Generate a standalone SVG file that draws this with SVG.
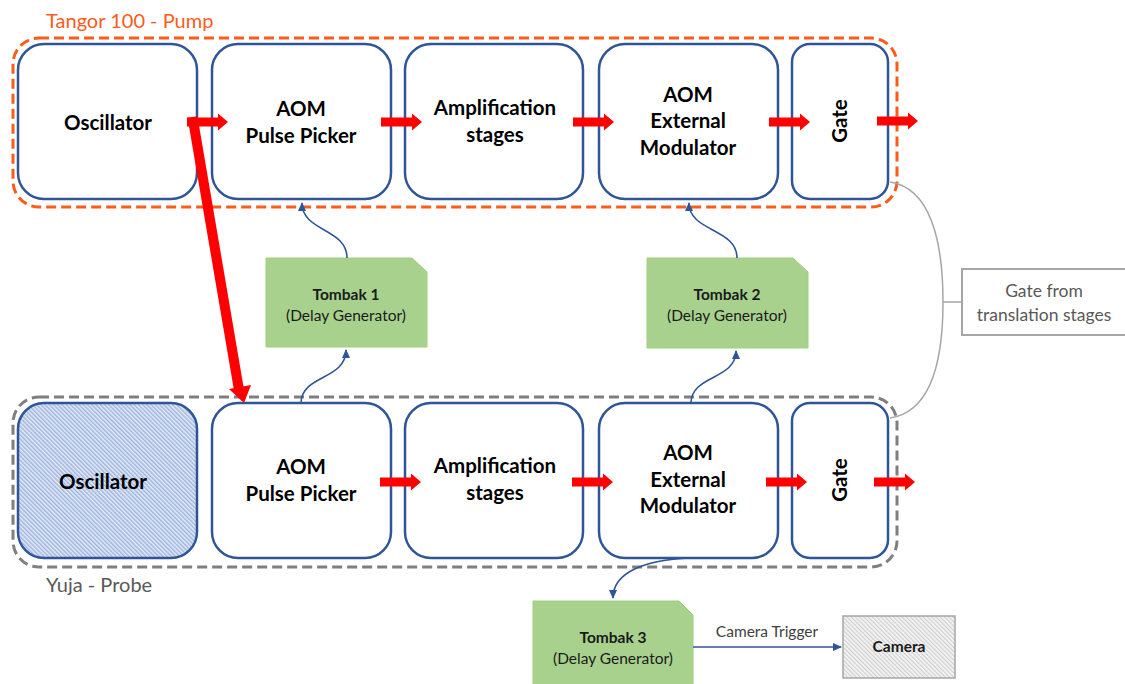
<svg xmlns="http://www.w3.org/2000/svg" width="1125" height="684" viewBox="0 0 1125 684">
<style>
.node{fill:#fff;stroke:#2f5597;stroke-width:2.5}
.lbl{font-family:Lato,"Liberation Sans",sans-serif;font-weight:bold;font-size:20.5px;fill:#000;text-anchor:middle}
.tb{fill:#a9d18e;stroke:#9bd27a;stroke-width:1}
.tt{font-family:Lato,"Liberation Sans",sans-serif;font-size:15.5px;fill:#1a1a1a;text-anchor:middle}
.ttb{font-weight:bold}
.blue{fill:none;stroke:#2f5597;stroke-width:1.6}
.gray{fill:none;stroke:#a6a6a6;stroke-width:1.5}
.red{fill:#ff0000}
.grp{font-family:Lato,"Liberation Sans",sans-serif;font-size:20px}
.gs{font-family:Lato,"Liberation Sans",sans-serif;font-size:17.5px;fill:#595959;text-anchor:middle}
</style>
<defs>
<pattern id="hatchB" width="3" height="3" patternUnits="userSpaceOnUse" patternTransform="rotate(-45)">
<rect width="3" height="3" fill="#e6ecf7"/>
<rect width="1.5" height="3" fill="#9db4df"/>
</pattern>
<pattern id="hatchG" width="3" height="3" patternUnits="userSpaceOnUse" patternTransform="rotate(-45)">
<rect width="3" height="3" fill="#f6f6f6"/>
<rect width="1.2" height="3" fill="#cdcdcd"/>
</pattern>
<marker id="ab" markerWidth="10" markerHeight="10" refX="8" refY="4" orient="auto" markerUnits="userSpaceOnUse">
<path d="M0,0 L9,4 L0,8 Z" fill="#2f5597"/>
</marker>
<path id="rarrow" d="M0,-4.5 L31,-4.5 L31,-8.5 L41,0 L31,8.5 L31,4.5 L0,4.5 Z"/>
</defs>

<g id="pump-group">
<rect x="13" y="38" width="884" height="169" rx="26" fill="none" stroke="#fc5c1a" stroke-width="3" stroke-dasharray="10,5"/>
<text class="grp" x="46" y="28" fill="#fc5c1a">Tangor 100 - Pump</text>
</g>
<g id="probe-group">
<rect x="13" y="397" width="884" height="170" rx="26" fill="none" stroke="#7f7f7f" stroke-width="3" stroke-dasharray="10,5"/>
<text class="grp" x="46" y="592" fill="#595959">Yuja - Probe</text>
</g>

<g id="osc1"><rect class="node" x="18" y="44" width="179" height="155" rx="26"/><text class="lbl" x="108" y="130">Oscillator</text></g>
<g id="pp1"><rect class="node" x="212" y="44" width="179" height="155" rx="26"/><text class="lbl" x="301" y="116">AOM</text><text class="lbl" x="301" y="143">Pulse Picker</text></g>
<g id="amp1"><rect class="node" x="405" y="44" width="178" height="155" rx="26"/><text class="lbl" x="495" y="115">Amplification</text><text class="lbl" x="495" y="142">stages</text></g>
<g id="ext1"><rect class="node" x="599" y="44" width="179" height="155" rx="26"/><text class="lbl" x="688" y="102">AOM</text><text class="lbl" x="688" y="128">External</text><text class="lbl" x="688" y="155">Modulator</text></g>
<g id="gate1"><rect class="node" x="792" y="44" width="96" height="155" rx="18"/><text class="lbl" transform="translate(847,121) rotate(-90)">Gate</text></g>

<g id="osc2"><rect class="node" x="18" y="403" width="179" height="155" rx="26" style="fill:url(#hatchB)"/><text class="lbl" x="103" y="489">Oscillator</text></g>
<g id="pp2"><rect class="node" x="212" y="403" width="179" height="155" rx="26"/><text class="lbl" x="301" y="474">AOM</text><text class="lbl" x="301" y="501">Pulse Picker</text></g>
<g id="amp2"><rect class="node" x="405" y="403" width="178" height="155" rx="26"/><text class="lbl" x="495" y="473">Amplification</text><text class="lbl" x="495" y="500">stages</text></g>
<g id="ext2"><rect class="node" x="599" y="403" width="179" height="155" rx="26"/><text class="lbl" x="688" y="460">AOM</text><text class="lbl" x="688" y="487">External</text><text class="lbl" x="688" y="513">Modulator</text></g>
<g id="gate2"><rect class="node" x="792" y="403" width="96" height="155" rx="18"/><text class="lbl" transform="translate(847,480) rotate(-90)">Gate</text></g>

<g id="tombak1"><polygon class="tb" points="266,258 412,258 427,272 427,347 266,347"/><text class="tt ttb" x="346" y="300">Tombak 1</text><text class="tt" x="346" y="321">(Delay Generator)</text></g>
<g id="tombak2"><polygon class="tb" points="647,258 793,258 808,272 808,348 647,348"/><text class="tt ttb" x="727" y="300">Tombak 2</text><text class="tt" x="727" y="321">(Delay Generator)</text></g>
<g id="tombak3"><polygon class="tb" points="533,601 679,601 693,615 693,690 533,690"/><text class="tt ttb" x="613" y="643">Tombak 3</text><text class="tt" x="613" y="664">(Delay Generator)</text></g>

<g id="camera"><rect x="843" y="616" width="112" height="62" style="fill:url(#hatchG)" stroke="#a6a6a6" stroke-width="1.5"/><text class="tt ttb" x="899" y="652">Camera</text></g>

<g id="gate-source"><rect x="962" y="269" width="170" height="66" fill="#fff" stroke="#a6a6a6" stroke-width="2"/>
<text class="gs" x="1044" y="297">Gate from</text>
<text class="gs" x="1044" y="321">translation stages</text></g>

<g id="connectors">
<g class="red">
<use href="#rarrow" x="187" y="122"/>
<use href="#rarrow" x="381" y="122"/>
<use href="#rarrow" x="573" y="122"/>
<use href="#rarrow" x="769" y="122"/>
<use href="#rarrow" x="877" y="121"/>
<use href="#rarrow" x="380" y="482"/>
<use href="#rarrow" x="572" y="482"/>
<use href="#rarrow" x="766" y="482"/>
<use href="#rarrow" x="874" y="482"/>
<line x1="192.5" y1="117" x2="239" y2="390" stroke="#ff0000" stroke-width="10"/>
<polygon points="229,389 251,385 244,403"/>
</g>
<path class="blue" d="M347,258 C347,228 302,232 302,203" marker-end="url(#ab)"/>
<path class="blue" d="M301,403 C301,375 346,380 346,350" marker-end="url(#ab)"/>
<path class="blue" d="M737,258 C737,228 689,232 689,203" marker-end="url(#ab)"/>
<path class="blue" d="M691,403 C691,375 736,380 736,351" marker-end="url(#ab)"/>
<path class="blue" d="M690,558 C645,560 613,572 613,598" marker-end="url(#ab)"/>
<path class="blue" d="M693,647 L841,647" marker-end="url(#ab)"/>
<text x="767" y="637" font-family="Lato,'Liberation Sans',sans-serif" font-size="15.5" fill="#404040" text-anchor="middle">Camera Trigger</text>
<path class="gray" d="M890,182 C930,188 943,240 943,302 C943,365 930,412 890,418"/>
<path class="gray" d="M943,302 L962,302"/>
</g>
</svg>
